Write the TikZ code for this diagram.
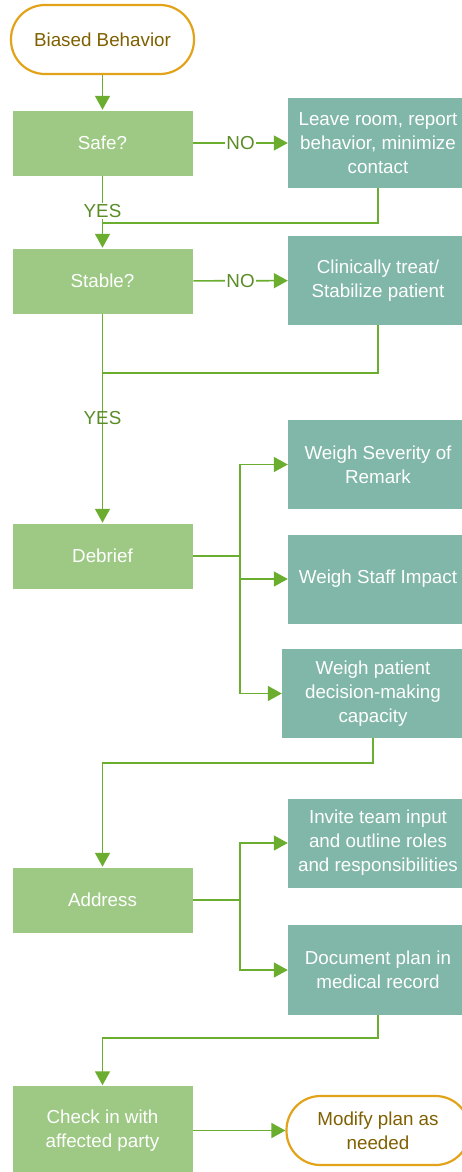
\documentclass[tikz,border=0pt]{standalone}
\usepackage{fontspec}
\setmainfont{Liberation Sans}
\usetikzlibrary{arrows.meta}
\definecolor{gbox}{HTML}{9DC984}
\definecolor{tbox}{HTML}{80B7A8}
\definecolor{arr}{HTML}{6AAD2F}
\definecolor{lbl}{HTML}{5A8C28}
\definecolor{orng}{HTML}{E2A31B}
\definecolor{brwn}{HTML}{7F6000}
\begin{document}
\begin{tikzpicture}[x=1pt,y=-1pt,
 font=\fontsize{18.8}{24}\selectfont,
 gstep/.style={fill=gbox, draw=white, line width=0.5pt, text=white, minimum width=181pt, minimum height=66pt, inner sep=0pt, align=center},
 tstep/.style={fill=tbox, text=white, minimum width=180pt, minimum height=89pt, inner sep=0pt, align=center},
 term/.style={draw=orng, line width=2.2pt, rounded corners=34pt, text=brwn, minimum width=183pt, minimum height=69pt, align=center, inner sep=0pt},
 conn/.style={draw=arr, line width=1.6pt},
 arrow/.style={conn, -{Triangle[length=14pt,width=15pt]}},
 lab/.style={text=lbl, inner sep=1pt}]
\useasboundingbox (0,0) rectangle (462,1172);
\node[term] (start) at (102.5,39.5) {Biased Behavior};
\node[gstep] (safe) at (102.5,143) {Safe?};
\node[tstep, minimum height=90pt] (leave) at (378,143) {Leave room, report\\behavior, minimize\\contact};
\node[gstep] (stable) at (102.5,281) {Stable?};
\node[tstep] (clin) at (378,280.5) {Clinically treat/\\Stabilize patient};
\node[gstep] (debrief) at (102.5,556) {Debrief};
\node[tstep] (sev) at (378,464.5) {Weigh Severity of\\Remark};
\node[tstep] (staff) at (378,579) {Weigh Staff Impact};
\node[tstep, minimum width=182pt] (pat) at (373,693.5) {Weigh patient\\decision-making\\capacity};
\node[gstep] (address) at (102.5,900) {Address};
\node[tstep] (invite) at (378,843) {Invite team input\\and outline roles\\and responsibilities};
\node[tstep, minimum height=90pt] (doc) at (378,970) {Document plan in\\medical record};
\node[gstep, minimum height=90pt] (check) at (102.5,1130.5) {Check in with\\affected party};
\node[term] (modify) at (378,1130.5) {Modify plan as\\needed};
\coordinate (m1) at (102.5,223);
\coordinate (m2) at (102.5,373);
\coordinate (m3) at (102.5,763);
\coordinate (m4) at (102.5,1038);
\coordinate (b1) at (240,556);
\coordinate (b2) at (240,900);
\draw[arrow] (start) -- (safe);
\draw[arrow] (safe) -- node[lab, fill=white] {NO} (leave);
\draw[conn] (safe) -- node[lab, fill=white, pos=0.74] {YES} (m1);
\draw[arrow] (leave.south) |- (m1) -- (stable);
\draw[arrow] (stable) -- node[lab] {YES} (debrief);
\draw[arrow] (stable) -- node[lab, fill=white] {NO} (clin);
\draw[conn] (clin.south) |- (m2);
\draw[conn] (debrief) -- (b1);
\draw[arrow] (b1) |- (sev);
\draw[arrow] (b1) |- (staff);
\draw[arrow] (b1) |- (pat);
\draw[arrow] (pat.south) |- (m3) -- (address);
\draw[conn] (address) -- (b2);
\draw[arrow] (b2) |- (invite);
\draw[arrow] (b2) |- (doc);
\draw[arrow] (doc.south) |- (m4) -- (check);
\draw[arrow] (check) -- (modify);
\end{tikzpicture}
\end{document}
